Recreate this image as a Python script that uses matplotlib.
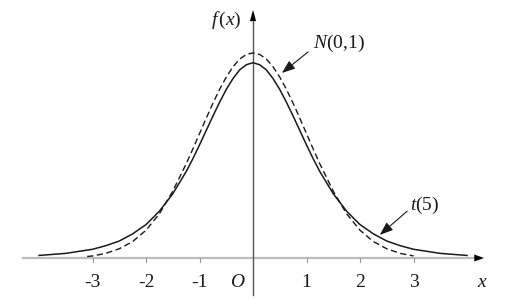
import matplotlib.pyplot as plt

plt.rcParams['mathtext.fontset'] = 'custom'
plt.rcParams['mathtext.rm'] = 'Liberation Serif'
plt.rcParams['mathtext.it'] = 'Liberation Serif:italic'
plt.rcParams['font.family'] = ['Liberation Serif', 'DejaVu Serif']

# values
t_x = [-4.0, -3.75, -3.5, -3.25, -3.0, -2.75, -2.5, -2.25, -2.0, -1.75, -1.5, -1.25, -1.125, -1.0,
       -0.875, -0.75, -0.625, -0.5, -0.375, -0.25, -0.125, 0.0, 0.125, 0.25, 0.375, 0.5, 0.625,
       0.75, 0.875, 1.0, 1.125, 1.25, 1.5, 1.75, 2.0, 2.25, 2.5, 2.75, 3.0, 3.25, 3.5, 3.75, 4.0]
t_y = [0.005, 0.007, 0.009, 0.013, 0.017, 0.024, 0.033, 0.047, 0.065, 0.091, 0.125, 0.168, 0.193, 0.220,
       0.248, 0.276, 0.303, 0.328, 0.349, 0.366, 0.376, 0.380, 0.376, 0.366, 0.349, 0.328, 0.303,
       0.276, 0.248, 0.220, 0.193, 0.168, 0.125, 0.091, 0.065, 0.047, 0.033, 0.024, 0.017, 0.013,
       0.009, 0.007, 0.005]

n_x = [-3.1, -3.0, -2.75, -2.5, -2.25, -2.0, -1.75, -1.5, -1.25, -1.125, -1.0, -0.875, -0.75, -0.625,
       -0.5, -0.375, -0.25, -0.125, 0.0, 0.125, 0.25, 0.375, 0.5, 0.625, 0.75, 0.875, 1.0, 1.125,
       1.25, 1.5, 1.75, 2.0, 2.25, 2.5, 2.75, 3.0]
n_y = [0.003, 0.004, 0.009, 0.018, 0.032, 0.054, 0.086, 0.130, 0.183, 0.212, 0.242, 0.272, 0.301, 0.328,
       0.352, 0.372, 0.387, 0.396, 0.399, 0.396, 0.387, 0.372, 0.352, 0.328, 0.301, 0.272, 0.242, 0.212,
       0.183, 0.130, 0.086, 0.054, 0.032, 0.018, 0.009, 0.004]

ticks = [-3, -2, -1, 1, 2, 3]
tick_labels = ['-3', '-2', '-1', '1', '2', '3']

fig = plt.figure(figsize=(5.11, 3.0), dpi=100)
ax = fig.add_axes([0, 0, 1, 1])
ax.set_xlim(-4.729, 4.822)
ax.set_ylim(-0.0817, 0.502)
ax.axis('off')

ink = '#1a1a1a'
fs = 14

# axes
ax.plot([-4.3, 4.25], [0, 0], color='#bdbdbd', lw=1.6, zorder=1)
ax.annotate('', xy=(4.37, 0), xytext=(4.1, 0),
            arrowprops=dict(arrowstyle='-|>,head_length=0.7,head_width=0.25', color='black', lw=0.01,
                            mutation_scale=10))
ax.plot([0, 0], [-0.072, 0.47], color='#555555', lw=1.0, zorder=1)
ax.annotate('', xy=(0, 0.488), xytext=(0, 0.43),
            arrowprops=dict(arrowstyle='-|>,head_length=0.8,head_width=0.22', color='black', lw=0.01,
                            mutation_scale=10))

for t, lab in zip(ticks, tick_labels):
    ax.plot([t, t], [0, -0.007], color='#999999', lw=0.8)
    ax.text(t, -0.047, lab, ha='center', va='center', fontsize=fs, color=ink)

ax.text(-0.28, -0.047, r'$O$', ha='center', va='center', fontsize=fs, color=ink)
ax.text(4.28, -0.047, r'$x$', ha='center', va='center', fontsize=fs, color=ink)
ax.text(-0.49, 0.463, r'$f\,(x)$', ha='center', va='center', fontsize=fs, color=ink)

# curves
ax.plot(t_x, t_y, color=ink, lw=1.1, zorder=3)
ax.plot(n_x, n_y, color=ink, lw=1.0, linestyle=(0, (4.5, 2.5)), zorder=3)

# labels with arrows
arrow = dict(arrowstyle='-|>,head_length=0.8,head_width=0.3', color=ink, lw=0.8, mutation_scale=10,
             shrinkA=0, shrinkB=0)
ax.annotate('', xy=(0.54, 0.36), xytext=(1.03, 0.401), arrowprops=arrow)
ax.text(1.6, 0.418, r'$N(0{,}1)$', ha='center', va='center', fontsize=fs, color=ink)
ax.annotate('', xy=(2.37, 0.045), xytext=(2.88, 0.091), arrowprops=arrow)
ax.text(3.2, 0.103, r'$t(5)$', ha='center', va='center', fontsize=fs, color=ink)

fig.savefig('out.png', dpi=100, facecolor='white')
